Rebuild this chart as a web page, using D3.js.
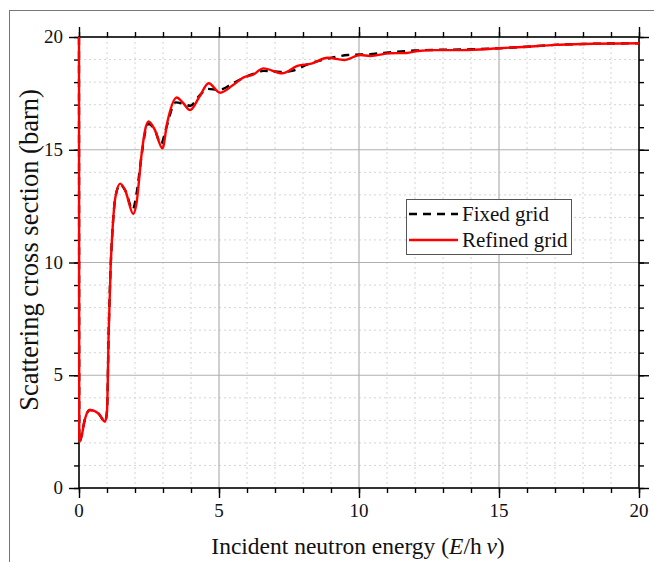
<!DOCTYPE html>
<html><head><meta charset="utf-8">
<script src="https://cdn.jsdelivr.net/npm/d3@7"></script>
<style>body{margin:0;background:#fff}svg{display:block}text{font-family:"Liberation Serif","Times New Roman",serif}</style>
</head><body>
<script>
const xTicks = [0,5,10,15,20];
const yTicks = [0,5,10,15,20];
const seriesNames = ["Fixed grid","Refined grid"];
const refinedE = [0,0.01,0.1,0.2,0.39,0.7,0.93,1.0,1.06,1.13,1.19,1.3,1.47,1.65,1.94,2.05,2.24,2.35,2.48,2.7,2.98,3.15,3.49,3.7,3.97,4.3,4.63,5.04,5.5,5.88,6.2,6.59,7.25,7.8,8.3,8.88,9.47,10.05,10.4,11.1,11.7,12.1,12.7,13.7,15,16,17,18,20];
const refinedS = [20,2.05,2.35,3.0,3.46,3.3,2.94,3.4,6.9,9.8,11.3,12.9,13.5,13.2,12.15,12.6,14.85,15.8,16.25,15.9,15.06,16.2,17.32,17.1,16.76,17.35,17.95,17.53,17.87,18.21,18.32,18.61,18.39,18.72,18.82,19.08,18.98,19.2,19.16,19.28,19.29,19.38,19.42,19.42,19.5,19.57,19.65,19.69,19.72];
const fixedE = [0,0.01,0.1,0.2,0.39,0.7,0.93,1.0,1.06,1.13,1.19,1.3,1.47,1.65,1.92,2.06,2.24,2.35,2.48,2.7,2.93,3.1,3.45,3.7,3.97,4.3,4.6,5.0,5.5,5.9,6.2,6.6,7.2,7.6,8.2,9.1,9.6,10.5,11.2,12,12.8,13.8,15,16,17,18,20];
const fixedS = [20,2.05,2.35,3.0,3.46,3.3,2.94,3.4,6.9,9.8,11.3,12.9,13.45,13.2,12.35,13.1,14.8,15.7,16.15,15.9,15.25,15.9,17.1,17.05,16.95,17.4,17.7,17.65,17.95,18.2,18.35,18.5,18.45,18.5,18.8,19.1,19.2,19.25,19.33,19.4,19.43,19.45,19.5,19.57,19.65,19.69,19.72];

const FONT='"Liberation Serif","Times New Roman",serif';
const W=654,H=562;
const m={l:79,r:639,t:37,b:488};
const svg=d3.select("body").append("svg").attr("width",W).attr("height",H);
svg.append("rect").attr("x",9.5).attr("y",10.5).attr("width",W).attr("height",H).attr("fill","none").attr("stroke","#777").attr("stroke-width",1);
const x=d3.scaleLinear().domain([0,20]).range([m.l,m.r]);
const y=d3.scaleLinear().domain([0,20]).range([m.b,m.t]);
const minor=d3.range(0,21,1);
const g=svg.append("g");
g.selectAll(".mgx").data(minor.filter(v=>v%5!==0)).join("line")
 .attr("x1",d=>x(d)).attr("x2",d=>x(d)).attr("y1",m.t).attr("y2",m.b)
 .attr("stroke","#d4d4d4").attr("stroke-dasharray","2,3").attr("stroke-width",1);
g.selectAll(".mgy").data(minor.filter(v=>v%5!==0)).join("line")
 .attr("y1",d=>y(d)).attr("y2",d=>y(d)).attr("x1",m.l).attr("x2",m.r)
 .attr("stroke","#d4d4d4").attr("stroke-dasharray","2,3").attr("stroke-width",1);
g.selectAll(".Mgx").data([5,10,15]).join("line")
 .attr("x1",d=>x(d)).attr("x2",d=>x(d)).attr("y1",m.t).attr("y2",m.b)
 .attr("stroke","#b0b0b0").attr("stroke-width",1.2);
g.selectAll(".Mgy").data([5,10,15]).join("line")
 .attr("y1",d=>y(d)).attr("y2",d=>y(d)).attr("x1",m.l).attr("x2",m.r)
 .attr("stroke","#b0b0b0").attr("stroke-width",1.2);

function mk(axisFn, scale, tr, ticks){
  const a=svg.append("g").attr("transform",tr);
  a.call(axisFn(scale).tickValues(minor).tickSize(5).tickFormat(()=>""));
  a.select(".domain").remove();
  const b=svg.append("g").attr("transform",tr);
  b.call(axisFn(scale).tickValues(ticks).tickSize(10).tickSizeOuter(0).tickFormat(()=>""));
  b.select(".domain").remove();
  svg.selectAll("g.tick line").attr("stroke","#000").attr("stroke-width",1.4);
}
mk(d3.axisBottom,x,`translate(0,${m.b})`,xTicks);
mk(d3.axisTop,x,`translate(0,${m.t})`,xTicks);
mk(d3.axisLeft,y,`translate(${m.l},0)`,yTicks);
mk(d3.axisRight,y,`translate(${m.r},0)`,yTicks);
svg.append("g").selectAll("text").data(xTicks).join("text")
 .attr("x",d=>x(d)).attr("y",m.b+29).attr("text-anchor","middle").text(d=>d)
 .style("font-family",FONT).style("font-size","19px").attr("fill","#111");
svg.append("g").selectAll("text").data(yTicks).join("text")
 .attr("x",m.l-16).attr("y",d=>y(d)+6).attr("text-anchor","end").text(d=>d)
 .style("font-family",FONT).style("font-size","19px").attr("fill","#111");
svg.append("rect").attr("x",m.l).attr("y",m.t).attr("width",m.r-m.l).attr("height",m.b-m.t)
 .attr("fill","none").attr("stroke","#000").attr("stroke-width",1.6);

const line=d3.line().x(d=>x(d[0])).y(d=>y(d[1])).curve(d3.curveMonotoneX);
const fixed=fixedE.map((e,i)=>[e,fixedS[i]]);
const refined=refinedE.map((e,i)=>[e,refinedS[i]]);
svg.append("path").datum(fixed).attr("d",line).attr("fill","none").attr("stroke","#000")
 .attr("stroke-width",2.4).attr("stroke-dasharray","8,6");
svg.append("path").datum(refined).attr("d",line).attr("fill","none").attr("stroke","#ff0000")
 .attr("stroke-width",2.4);

const lg=svg.append("g");
lg.append("rect").attr("x",406.5).attr("y",199.5).attr("width",165).attr("height",55)
 .attr("fill","#fff").attr("stroke","#555").attr("stroke-width",1);
const items=[{n:seriesNames[0],c:"#000",d:"8,6"},{n:seriesNames[1],c:"#ff0000",d:null}];
items.forEach((it,i)=>{
  const yy=214+i*26;
  lg.append("line").attr("x1",409).attr("x2",458).attr("y1",yy).attr("y2",yy)
   .attr("stroke",it.c).attr("stroke-width",2.4).attr("stroke-dasharray",it.d);
  lg.append("text").attr("x",462).attr("y",yy+7).text(it.n)
   .style("font-family",FONT).style("font-size","21px").attr("fill","#111");
});

const xt=svg.append("text").attr("x",358).attr("y",554).attr("text-anchor","middle")
 .style("font-family",FONT).style("font-size","23.5px").attr("fill","#111");
xt.append("tspan").text("Incident neutron energy (");
xt.append("tspan").attr("font-style","italic").text("E");
xt.append("tspan").text("/h\u2009");
xt.append("tspan").attr("font-style","italic").text("\u03bd");
xt.append("tspan").text(")");
svg.append("text").attr("transform","translate(38,250) rotate(-90)").attr("text-anchor","middle")
 .style("font-family",FONT).style("font-size","26.5px").attr("fill","#111")
 .text("Scattering cross section (barn)");
</script>
</body></html>
